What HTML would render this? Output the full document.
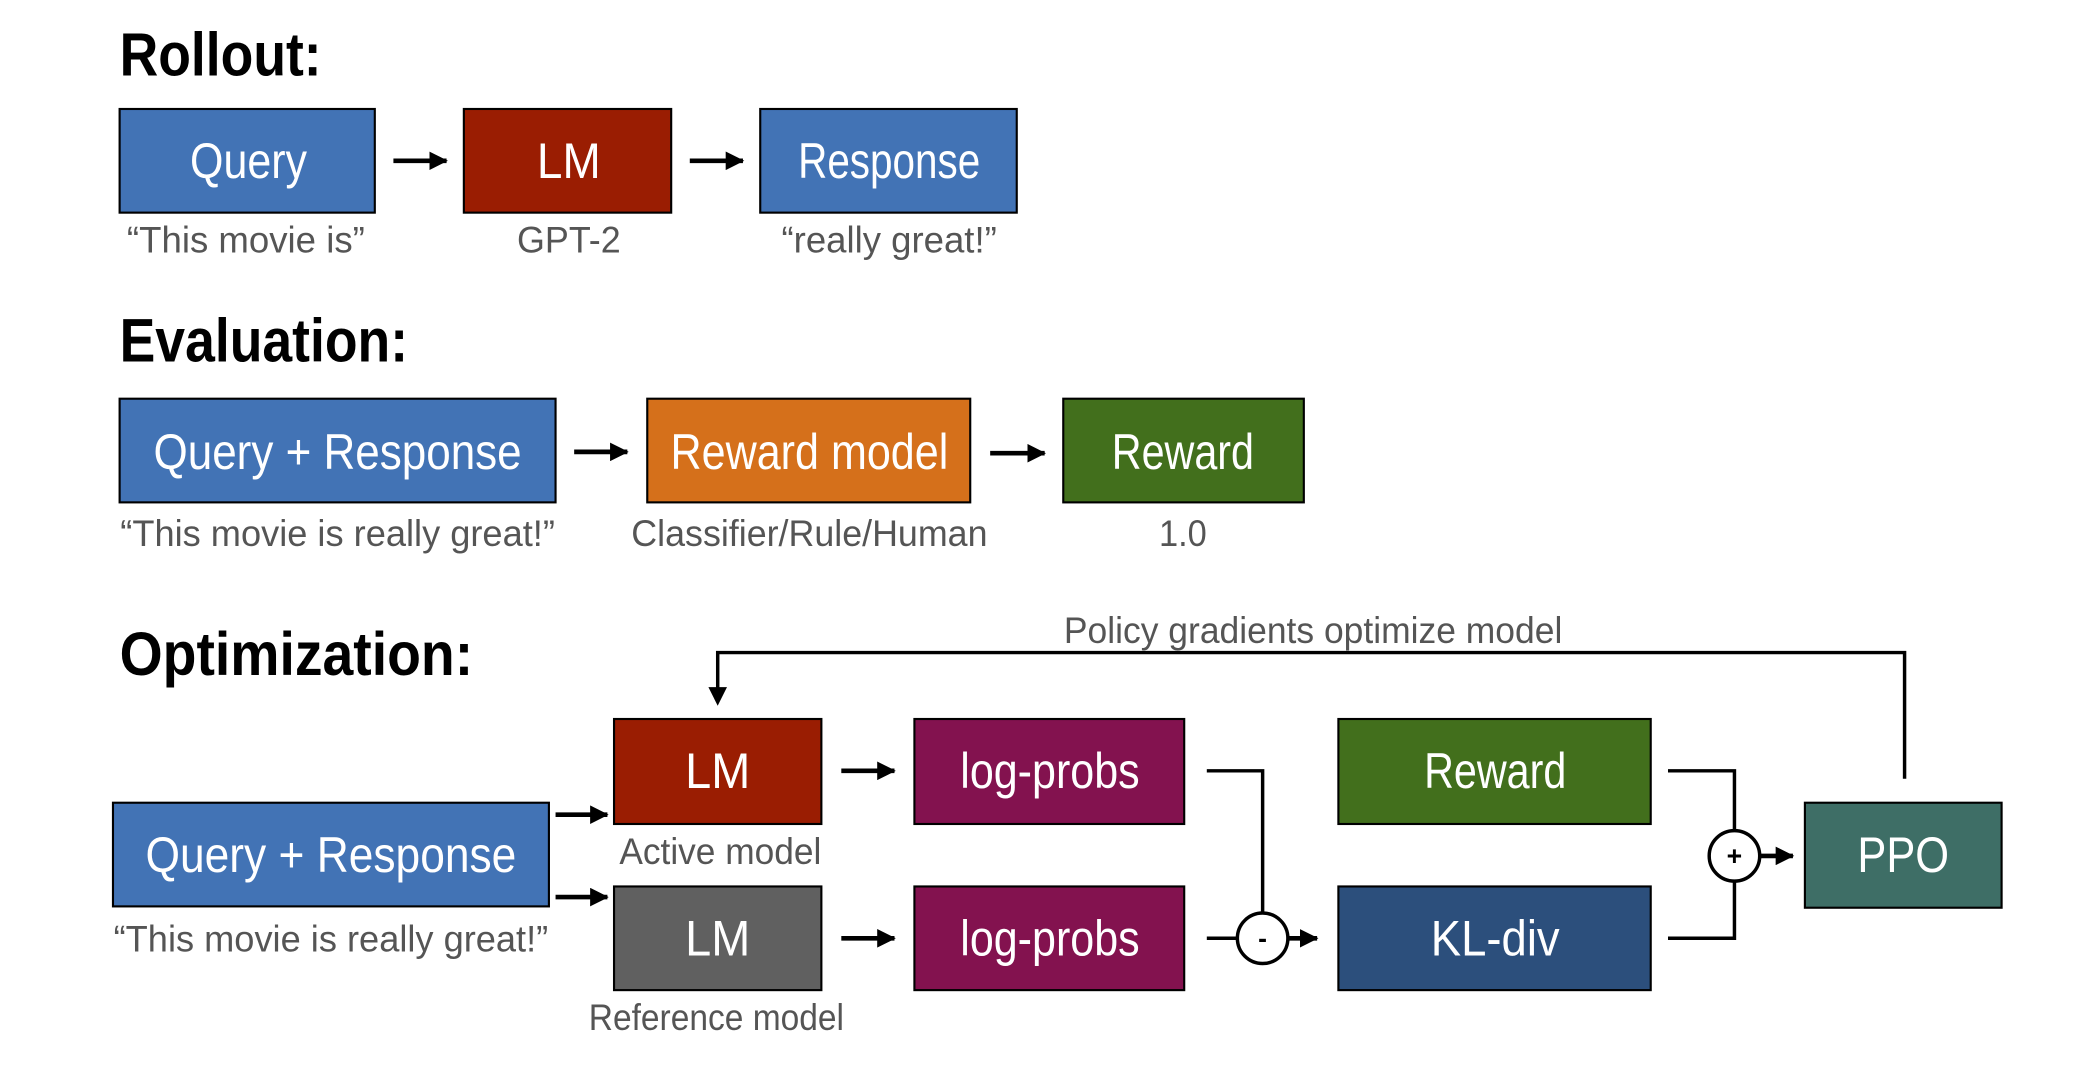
<!DOCTYPE html>
<html><head><meta charset="utf-8"><style>html,body{margin:0;padding:0;background:#fff}svg{display:block}</style></head>
<body>
<svg width="2084" height="1068" viewBox="0 0 1568 803.6" preserveAspectRatio="none" xmlns="http://www.w3.org/2000/svg" font-family="Liberation Sans, sans-serif">
<defs><marker id="a" markerWidth="14" markerHeight="14" refX="13" refY="7" orient="auto" markerUnits="userSpaceOnUse"><path d="M0,0 L14,7 L0,14 z" fill="#000"/></marker></defs>
<g font-weight="bold" fill="#000" font-size="46">
<text x="90" y="57" textLength="152" lengthAdjust="spacingAndGlyphs">Rollout:</text>
<text x="90" y="272" textLength="217" lengthAdjust="spacingAndGlyphs">Evaluation:</text>
<text x="90" y="508" textLength="266" lengthAdjust="spacingAndGlyphs">Optimization:</text>
</g>
<g stroke="#000" stroke-width="1.6">
<rect x="90" y="82" width="192" height="78" fill="#4273b5"/>
<rect x="349" y="82" width="156" height="78" fill="#9a1d02"/>
<rect x="572" y="82" width="193" height="78" fill="#4273b5"/>
<rect x="90" y="300" width="328" height="78" fill="#4273b5"/>
<rect x="487" y="300" width="243" height="78" fill="#d5701b"/>
<rect x="800" y="300" width="181" height="78" fill="#426f1c"/>
<rect x="462" y="541" width="156" height="79" fill="#9a1d02"/>
<rect x="688" y="541" width="203" height="79" fill="#83124f"/>
<rect x="1007" y="541" width="235" height="79" fill="#426f1c"/>
<rect x="85" y="604" width="328" height="78" fill="#4273b5"/>
<rect x="462" y="667" width="156" height="78" fill="#606060"/>
<rect x="688" y="667" width="203" height="78" fill="#83124f"/>
<rect x="1007" y="667" width="235" height="78" fill="#2c4f7c"/>
<rect x="1358" y="604" width="148" height="79" fill="#3e6e66"/>
</g>
<g stroke="#000" stroke-width="3.5" fill="none" marker-end="url(#a)">
<line x1="296" y1="121" x2="336" y2="121"/>
<line x1="519" y1="121" x2="559" y2="121"/>
<line x1="432" y1="340" x2="472" y2="340"/>
<line x1="745" y1="341" x2="786" y2="341"/>
<line x1="418" y1="613" x2="457" y2="613"/>
<line x1="418" y1="675" x2="457" y2="675"/>
<line x1="633" y1="580" x2="673" y2="580"/>
<line x1="633" y1="706" x2="673" y2="706"/>
<line x1="969" y1="706" x2="991" y2="706"/>
<line x1="1324" y1="644" x2="1349" y2="644"/>
</g>
<g stroke="#000" stroke-width="2.6" fill="none">
<path d="M1433,586 V491 H540 V520"/>
<path d="M533,517 L547,517 L540,531 z" fill="#000" stroke="none"/>
<path d="M908,580 H950 V687"/>
<path d="M908,706 H931"/>
<path d="M1255,580 H1305 V625"/>
<path d="M1255,706 H1305 V663"/>
<circle cx="950" cy="706" r="19" fill="#fff"/>
<circle cx="1305" cy="644" r="19" fill="#fff"/>
</g>
<g font-size="20" font-weight="bold" text-anchor="middle"><text x="950" y="713">-</text><text x="1305" y="651">+</text></g>
<g fill="#fff" font-size="38" text-anchor="middle">
<text x="187" y="134" textLength="88" lengthAdjust="spacingAndGlyphs">Query</text>
<text x="428" y="134" textLength="48" lengthAdjust="spacingAndGlyphs">LM</text>
<text x="669" y="134" textLength="137" lengthAdjust="spacingAndGlyphs">Response</text>
<text x="254" y="353" textLength="277" lengthAdjust="spacingAndGlyphs">Query + Response</text>
<text x="609" y="353" textLength="209" lengthAdjust="spacingAndGlyphs">Reward model</text>
<text x="890" y="353" textLength="107" lengthAdjust="spacingAndGlyphs">Reward</text>
<text x="540" y="593" textLength="49" lengthAdjust="spacingAndGlyphs">LM</text>
<text x="790" y="593" textLength="135" lengthAdjust="spacingAndGlyphs">log-probs</text>
<text x="1125" y="593" textLength="107" lengthAdjust="spacingAndGlyphs">Reward</text>
<text x="249" y="656" textLength="279" lengthAdjust="spacingAndGlyphs">Query + Response</text>
<text x="540" y="719" textLength="49" lengthAdjust="spacingAndGlyphs">LM</text>
<text x="790" y="719" textLength="135" lengthAdjust="spacingAndGlyphs">log-probs</text>
<text x="1125" y="719" textLength="97" lengthAdjust="spacingAndGlyphs">KL-div</text>
<text x="1432" y="656" textLength="69" lengthAdjust="spacingAndGlyphs">PPO</text>
</g>
<g fill="#555" font-size="28" text-anchor="middle">
<text x="185" y="190" textLength="179" lengthAdjust="spacingAndGlyphs">“This movie is”</text>
<text x="428" y="190" textLength="78" lengthAdjust="spacingAndGlyphs">GPT-2</text>
<text x="669" y="190" textLength="162" lengthAdjust="spacingAndGlyphs">“really great!”</text>
<text x="254" y="411" textLength="327" lengthAdjust="spacingAndGlyphs">“This movie is really great!”</text>
<text x="609" y="411" textLength="268" lengthAdjust="spacingAndGlyphs">Classifier/Rule/Human</text>
<text x="890" y="411" textLength="36" lengthAdjust="spacingAndGlyphs">1.0</text>
<text x="988" y="484" textLength="375" lengthAdjust="spacingAndGlyphs">Policy gradients optimize model</text>
<text x="542" y="650" textLength="152" lengthAdjust="spacingAndGlyphs">Active model</text>
<text x="249" y="716" textLength="327" lengthAdjust="spacingAndGlyphs">“This movie is really great!”</text>
<text x="539" y="775" textLength="192" lengthAdjust="spacingAndGlyphs">Reference model</text>
</g>
</svg>
</body></html>
